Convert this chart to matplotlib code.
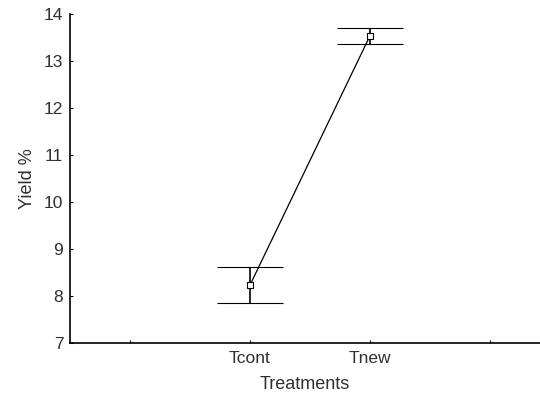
import matplotlib.pyplot as plt

plt.rcParams['font.family'] = ['Liberation Sans', 'DejaVu Sans']

treatments = ['Tcont', 'Tnew']
positions = [2, 3]
yield_mean = [8.23, 13.53]
ci_low = [7.85, 13.36]
ci_high = [8.62, 13.70]

err = [[m - lo for m, lo in zip(yield_mean, ci_low)],
       [hi - m for m, hi in zip(yield_mean, ci_high)]]

fig = plt.figure(figsize=(5.4, 4), dpi=100)
ax = fig.add_axes([0.13, 0.1425, 0.87, 0.8225])

ax.errorbar(positions, yield_mean, yerr=err, color='black', lw=0.9,
            elinewidth=1.2, capsize=24, capthick=1.2,
            marker='s', markersize=4, markerfacecolor='white',
            markeredgecolor='black', markeredgewidth=0.8)

ax.set_xlim(0.5, 4.42)
ax.set_ylim(7, 14)
ax.set_xticks([1, 2, 3, 4])
ax.set_xticklabels(['', treatments[0], treatments[1], ''])
ax.set_yticks(range(7, 15))

for s in ['top', 'right']:
    ax.spines[s].set_visible(False)
for s in ['left', 'bottom']:
    ax.spines[s].set_linewidth(1.2)

ax.tick_params(direction='in', length=2, width=0.8, labelsize=12.5,
               labelcolor='#303030')
ax.tick_params(axis='y', pad=5)
ax.tick_params(axis='x', pad=6)

ax.set_xlabel('Treatments', fontsize=13, color='#303030', labelpad=7)
ax.set_ylabel('Yield %', fontsize=13, color='#303030', labelpad=6)

fig.savefig('out.png', dpi=100)
